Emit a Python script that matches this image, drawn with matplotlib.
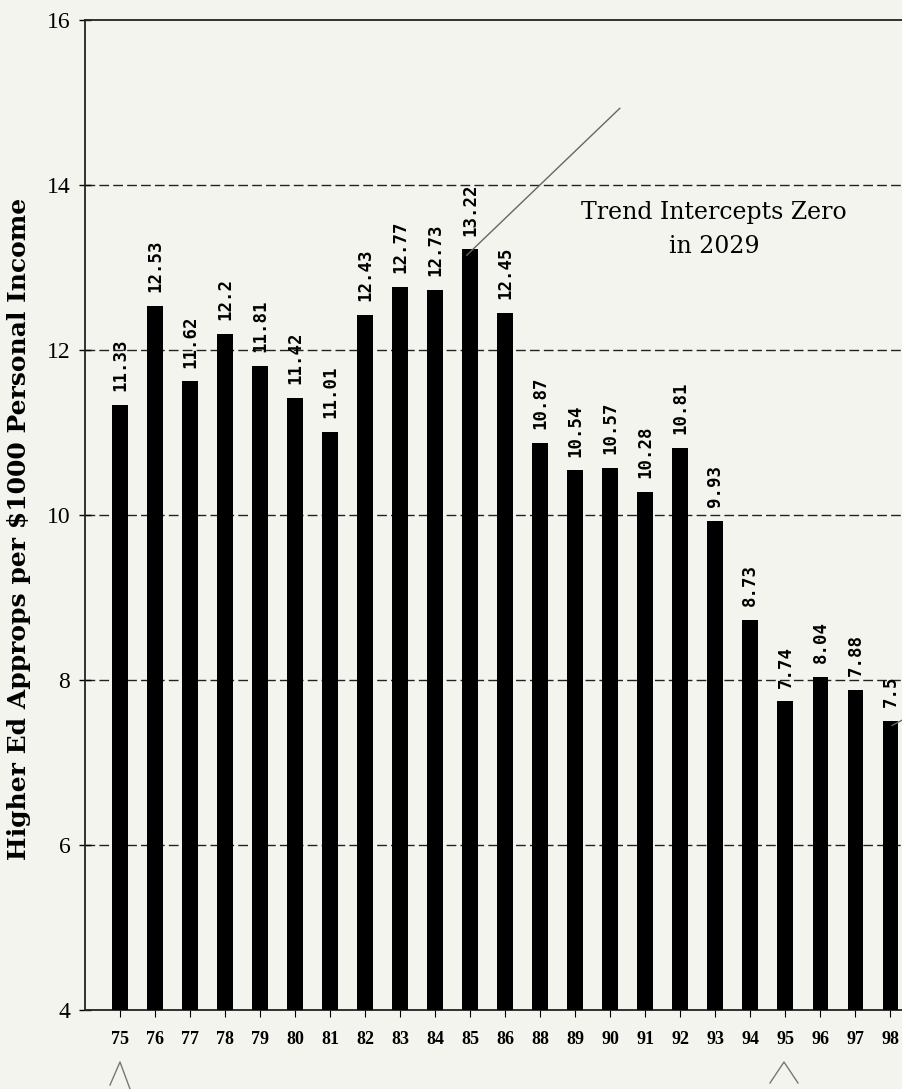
import matplotlib.pyplot as plt
import numpy as np

# fiscal years (87 is missing in the original chart)
years = ['75', '76', '77', '78', '79', '80', '81', '82', '83', '84', '85', '86',
         '88', '89', '90', '91', '92', '93', '94', '95', '96', '97', '98']
approps = [11.33, 12.53, 11.62, 12.2, 11.81, 11.42, 11.01, 12.43, 12.77, 12.73,
           13.22, 12.45, 10.87, 10.54, 10.57, 10.28, 10.81, 9.93, 8.73, 7.74,
           8.04, 7.88, 7.5]
yticks = [4, 6, 8, 10, 12, 14, 16]
note_lines = ['Trend Intercepts Zero', 'in 2029']

bg = '#f4f4ef'
fig = plt.figure(figsize=(9.03, 10.89), dpi=100, facecolor=bg)
ax = fig.add_axes([0.094, 0.0725, 0.906, 0.9091], facecolor=bg)

x = np.arange(len(years))
ax.bar(x, approps, width=0.45, bottom=0, color='black', zorder=3)

# value labels, rotated above each bar
for xi, v in zip(x, approps):
    ax.annotate(f'{v:g}', (xi, v), xytext=(0, 10), textcoords='offset points',
                rotation=90, ha='center', va='bottom', fontsize=12.5,
                fontweight='bold', family='DejaVu Sans Mono', zorder=4)

ax.set_ylim(4, 16)
ax.set_xlim(-1.01, 22.36)
ax.set_yticks(yticks)
ax.set_yticklabels([str(t) for t in yticks], family='Liberation Serif',
                   fontsize=17)
ax.set_xticks(x)
ax.set_xticklabels(years, family='Liberation Serif', fontweight='bold',
                   fontsize=13)
ax.tick_params(axis='y', direction='inout', length=9, width=1, pad=6)
ax.tick_params(axis='x', direction='out', length=5, width=0.8, pad=10)

for g in yticks[1:-1]:
    ax.axhline(g, color='#222222', lw=1.0, ls=(0, (7, 3)), zorder=1)

ax.spines['right'].set_visible(False)
for s in ['left', 'top', 'bottom']:
    ax.spines[s].set_color('#222222')
    ax.spines[s].set_linewidth(1.3)

ax.set_ylabel('Higher Ed Approps per $1000 Personal Income',
              family='DejaVu Serif', fontweight='bold', fontsize=18)
ax.yaxis.set_label_coords(-0.066, 0.486)

# trend note and hand-drawn pointer lines
ax.text(16.96, 13.67, note_lines[0], ha='center', va='center',
        family='DejaVu Serif', fontsize=17, zorder=4)
ax.text(16.96, 13.25, note_lines[1], ha='center', va='center',
        family='DejaVu Serif', fontsize=17, zorder=4)
ax.plot([9.9, 14.27], [approps[10] - 0.07, 14.93], color='#666666', lw=1,
        zorder=5, clip_on=False)
ax.plot([22.05, 22.36], [approps[-1] - 0.05, approps[-1] + 0.02],
        color='#666666', lw=1, zorder=5, clip_on=False)

# check marks below the axis
fig.lines.append(plt.Line2D([110/903, 120/903, 130/903],
                            [1 - 1085/1089, 1 - 1062/1089, 1 - 1089/1089],
                            transform=fig.transFigure, color='#777777', lw=1))
fig.lines.append(plt.Line2D([770/903, 784/903, 798/903],
                            [1 - 1083/1089, 1 - 1062/1089, 1 - 1083/1089],
                            transform=fig.transFigure, color='#777777', lw=1))

fig.savefig('out.png', dpi=100, facecolor=bg)
